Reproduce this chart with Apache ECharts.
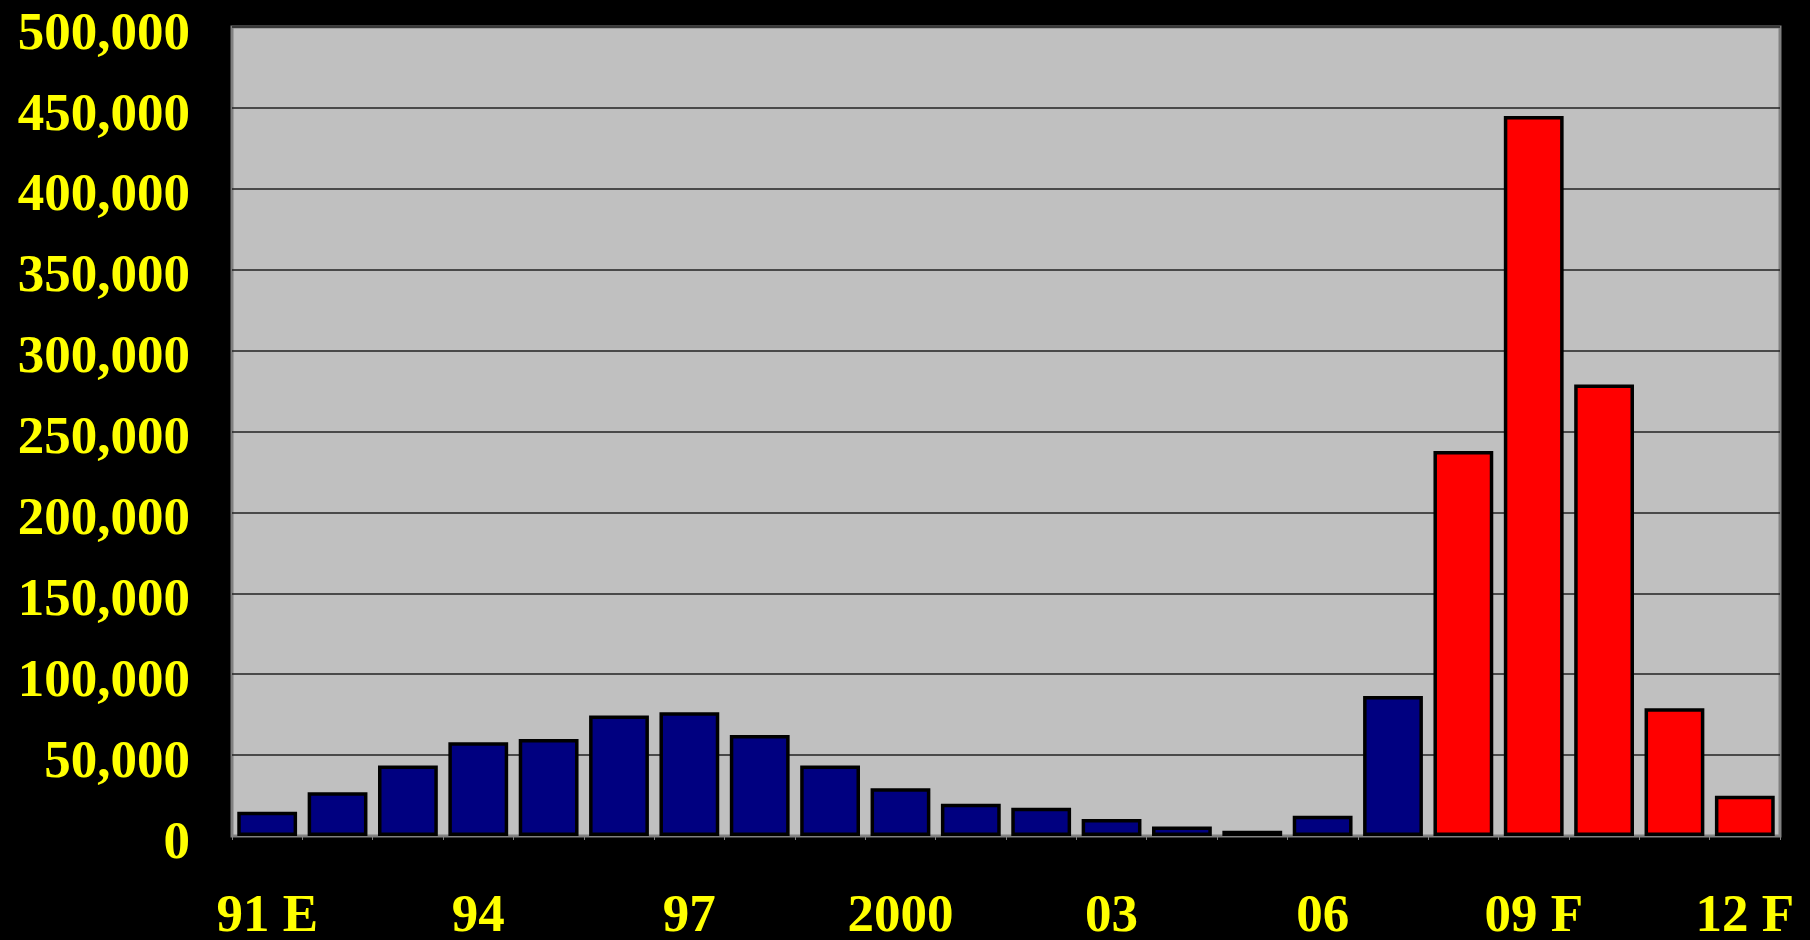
<!DOCTYPE html>
<html>
<head>
<meta charset="utf-8">
<title>chart</title>
<script src="https://cdn.jsdelivr.net/npm/echarts@6/dist/echarts.min.js"></script>
<style>
  html, body { margin: 0; padding: 0; background: #000; }
  #chart { width: 1810px; height: 940px; }
</style>
</head>
<body>
<div id="chart"></div>
<script>
// years 1991 - 2012, labels shown every third one
const categories = ['91 E', '92', '93', '94', '95', '96', '97', '98', '99', '2000', '01',
  '02', '03', '04', '05', '06', '07', '08 F', '09 F', '10 F', '11 F', '12 F']
const values = [15000, 27000, 43500, 58000, 60000, 74500, 76500, 62500, 43500, 29500, 20000,
  17500, 10500, 5800, 3300, 12500, 86500, 238000, 445000, 279000, 79000, 24800]
// first forecast year (index into categories), drawn red
const forecastStart = 17

const yTicks = { min: 0, max: 500000, interval: 50000 }

const font = "'Liberation Serif', 'Times New Roman', serif"

let chart = echarts.init(document.getElementById('chart'))
let option = {
  backgroundColor: '#000000',
  animation: false,
  grid: {
    left: 232,
    right: 30,
    top: 27,
    bottom: 104,
    outerBoundsMode: 'none',
    containLabel: false,
    show: true,
    backgroundColor: '#C0C0C0',
    borderColor: '#808080',
    borderWidth: 3
  },
  xAxis: {
    type: 'category',
    data: categories,
    axisLine: { show: true, lineStyle: { color: '#808080', width: 2 } },
    axisTick: { show: true, interval: 0, length: 4, lineStyle: { color: '#808080' } },
    axisLabel: {
      interval: 2,
      margin: 55,
      color: '#FFFF00',
      fontFamily: font,
      fontWeight: 'bold',
      fontSize: 53
    }
  },
  yAxis: {
    type: 'value',
    min: yTicks.min,
    max: yTicks.max,
    interval: yTicks.interval,
    axisLine: { show: false },
    axisTick: { show: false },
    splitLine: { show: true, lineStyle: { color: '#222222', width: 1.5 } },
    axisLabel: {
      margin: 42,
      formatter: v => '{n|' + v.toLocaleString('en-US') + '}',
      rich: {
        n: {
          padding: [16, 0, 0, 0],
          color: '#FFFF00',
          fontFamily: font,
          fontWeight: 'bold',
          fontSize: 53
        }
      }
    }
  },
  series: [
    {
      type: 'bar',
      data: values,
      barCategoryGap: '15%',
      itemStyle: {
        color: p => (p.dataIndex >= forecastStart ? '#FF0000' : '#000080'),
        borderColor: '#000000',
        borderWidth: 3.5
      }
    }
  ]
}
chart.setOption(option)
</script>
</body>
</html>
